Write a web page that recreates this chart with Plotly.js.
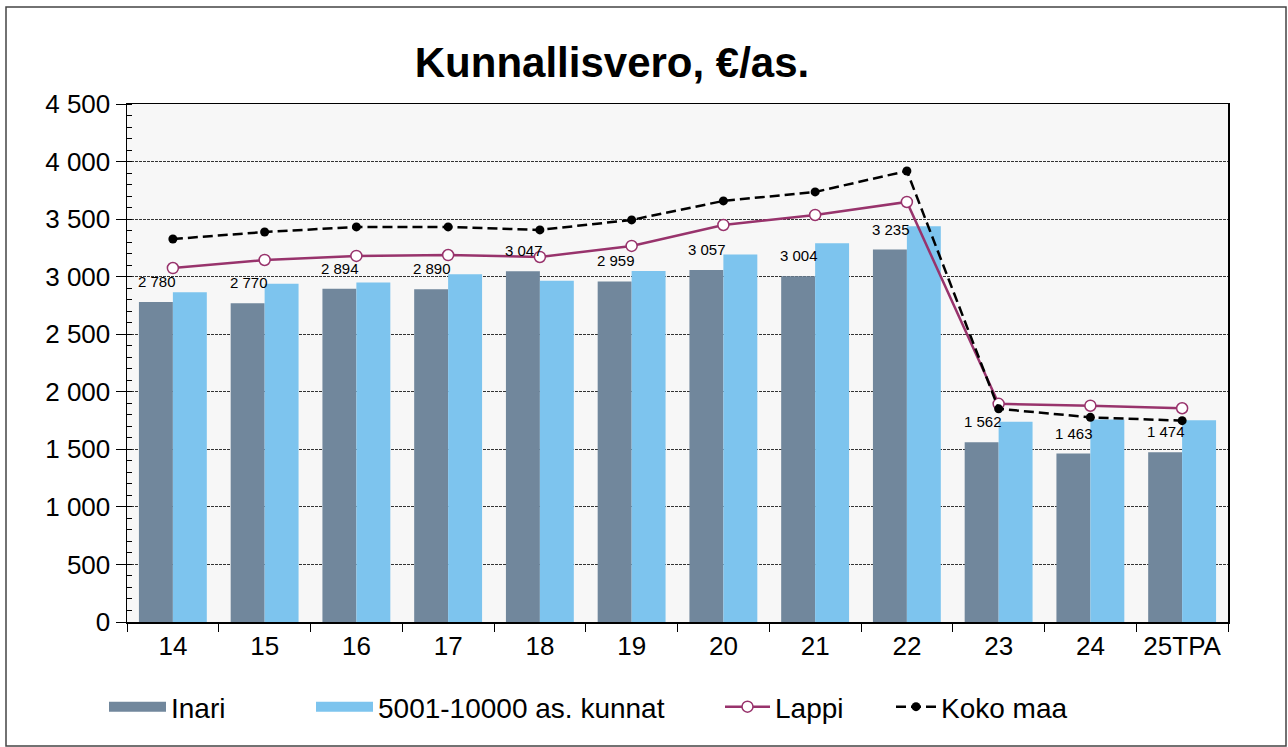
<!DOCTYPE html>
<html>
<head>
<meta charset="utf-8">
<script src="https://cdn.plot.ly/plotly-3.0.1.min.js"></script>
<style>
html,body{margin:0;padding:0;background:#fff;}
#chart{width:1288px;height:747px;}
</style>
</head>
<body>
<div id="chart"></div>
<script>
const categories = ["14","15","16","17","18","19","20","21","22","23","24","25TPA"];
const inari = [2780, 2770, 2894, 2890, 3047, 2959, 3057, 3004, 3235, 1562, 1463, 1474];
const kunnat = [2865, 2938, 2950, 3020, 2965, 3050, 3192, 3290, 3437, 1740, 1760, 1752];
const lappi = [3075, 3145, 3180, 3188, 3171, 3267, 3449, 3536, 3649, 1895, 1879, 1857];
const kokoMaa = [3327, 3388, 3432, 3432, 3406, 3493, 3658, 3736, 3918, 1852, 1778, 1749];

const FONT = "Liberation Sans, Arial, sans-serif";
const C_INARI = "#71879c";
const C_KUNNAT = "#7dc4ee";
const C_LAPPI = "#98336c";

function fmtNum(v) {
  return String(v).replace(/\B(?=(\d{3})+(?!\d))/g, " ");
}

const traces = [
  {
    type: "bar", name: "Inari", x: categories, y: inari,
    marker: {color: C_INARI},
    showlegend: false, legendgroup: "inari"
  },
  {
    type: "bar", name: "5001-10000 as. kunnat", x: categories, y: kunnat,
    marker: {color: C_KUNNAT},
    showlegend: false, legendgroup: "kunnat"
  },
  {
    type: "scatter", mode: "lines+markers", name: "Lappi", x: categories, y: lappi,
    line: {color: C_LAPPI, width: 2.5},
    marker: {symbol: "circle", size: 11, color: "#ffffff", line: {color: C_LAPPI, width: 1.5}},
    legend: "legend3", cliponaxis: false
  },
  {
    type: "scatter", mode: "lines+markers", name: "Koko maa", x: categories, y: kokoMaa,
    line: {color: "#000000", width: 2.5, dash: "10px,5px"},
    marker: {symbol: "circle", size: 9, color: "#000000"},
    legend: "legend4", cliponaxis: false
  },
  // legend keys for the bar series (drawn as wide blocks like the reference)
  {
    type: "scatter", mode: "lines", name: "Inari", x: [null], y: [null],
    line: {color: C_INARI, width: 16}, legend: "legend", legendgroup: "inari"
  },
  {
    type: "scatter", mode: "lines", name: "5001-10000 as. kunnat", x: [null], y: [null],
    line: {color: C_KUNNAT, width: 16}, legend: "legend2", legendgroup: "kunnat"
  }
];

// data labels for the Inari bars, placed above each bar (x = category index)
const labelAnnotations = inari.map((v, i) => ({
  x: i, y: v, xref: "x", yref: "y",
  text: fmtNum(v), showarrow: false,
  xanchor: "center", yanchor: "bottom",
  xshift: -16, yshift: 10,
  font: {family: FONT, size: 15, color: "#000"}
}));

const legendBase = {
  orientation: "h", yanchor: "middle", xanchor: "left", y: -0.164,
  font: {family: FONT, size: 28, color: "#000"},
  bgcolor: "rgba(0,0,0,0)", tracegroupgap: 0
};

const layout = {
  width: 1288, height: 747,
  margin: {l: 127, r: 60, t: 104, b: 125},
  paper_bgcolor: "#ffffff",
  plot_bgcolor: "#f7f7f7",
  separators: ", ",
  font: {family: FONT, color: "#000"},
  title: {
    text: "<b>Kunnallisvero, €/as.</b>",
    font: {family: FONT, size: 42, color: "#000"},
    xref: "container", x: 612/1288, xanchor: "center",
    yref: "container", y: 1 - 62/747, yanchor: "middle"
  },
  barmode: "group",
  bargap: 0.26,
  bargroupgap: 0,
  xaxis: {
    type: "category",
    range: [-0.5, 11.5],
    tickson: "boundaries",
    ticks: "outside", ticklen: 8, tickcolor: "#000", tickwidth: 1,
    showline: true, linecolor: "#000", linewidth: 1.5, mirror: true,
    tickfont: {family: FONT, size: 26, color: "#000"},
    showgrid: false, fixedrange: true
  },
  yaxis: {
    range: [0, 4500], dtick: 500, tick0: 0,
    tickformat: ",d",
    ticks: "outside", ticklen: 10, tickcolor: "#000", tickwidth: 1,
    showline: true, linecolor: "#000", linewidth: 1.5, mirror: true,
    showgrid: true, gridcolor: "#333333", gridwidth: 1, griddash: "3px,1px",
    zeroline: false,
    minor: {dtick: 100, ticks: "inside", ticklen: 5, tickcolor: "#000", showgrid: false},
    tickfont: {family: FONT, size: 26, color: "#000"},
    fixedrange: true
  },
  legend: Object.assign({}, legendBase, {x: (104 - 127) / 1101, itemwidth: 57}),
  legend2: Object.assign({}, legendBase, {x: (311 - 127) / 1101, itemwidth: 57}),
  legend3: Object.assign({}, legendBase, {x: (720 - 127) / 1101, itemwidth: 45}),
  legend4: Object.assign({}, legendBase, {x: (891 - 127) / 1101, itemwidth: 40}),
  annotations: labelAnnotations,
  shapes: [
    {type: "rect", xref: "paper", yref: "paper",
     x0: -121/1101, x1: 1159/1101, y0: -124/518, y1: 615/518,
     line: {color: "#444", width: 1.5}, fillcolor: "rgba(0,0,0,0)", layer: "below"}
  ],
  showlegend: true
};

Plotly.newPlot("chart", traces, layout, {displayModeBar: false, staticPlot: true});
</script>
</body>
</html>
